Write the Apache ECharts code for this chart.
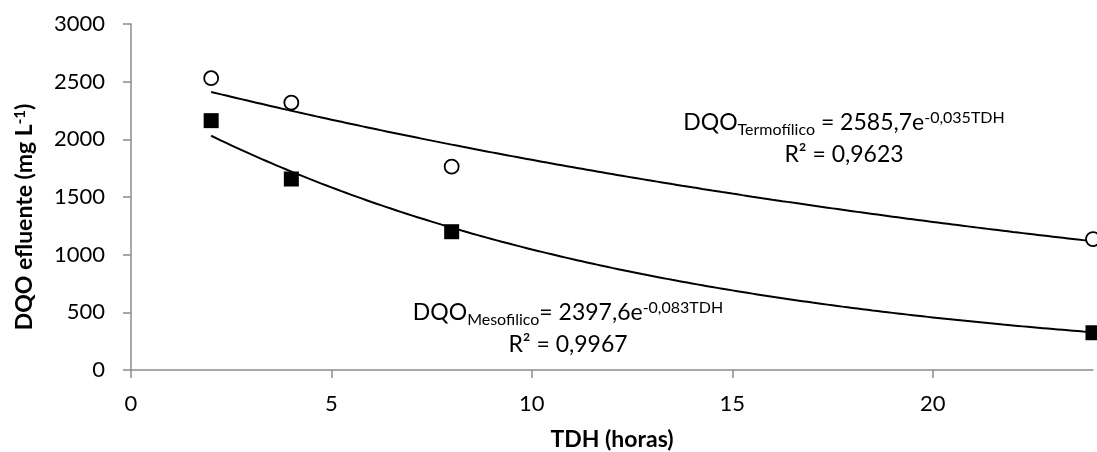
<!DOCTYPE html>
<html>
<head>
<meta charset="utf-8">
<style>
  html, body { margin: 0; padding: 0; background: #fff; }
  #chart { width: 1097px; height: 452px; }
</style>
<script src="https://cdn.jsdelivr.net/npm/echarts@6/dist/echarts.min.js"></script>
</head>
<body>
<div id="chart"></div>
<script>
// Hydraulic retention time (TDH, hours)
const tdh = [2, 4, 8, 24];
// Effluent COD (mg/L) for each reactor
const dqoTermofilico = [2530, 2318, 1763, 1135];
const dqoMesofilico = [2162, 1656, 1199, 323];
// Exponential fit coefficients: DQO = a * exp(b * TDH)
const fitTermofilico = [2585.7, -0.035];
const fitMesofilico = [2397.6, -0.083];
// Axis ticks
const xTicks = [0, 5, 10, 15, 20];
const yTicks = [0, 500, 1000, 1500, 2000, 2500, 3000];

const FONT = 'Lato, "Noto Sans", sans-serif';

function fitCurve(coef) {
  const pts = [];
  for (let t = tdh[0]; t <= tdh[tdh.length - 1] + 1e-9; t += 0.25) {
    pts.push([t, coef[0] * Math.exp(coef[1] * t)]);
  }
  return pts;
}

const chart = echarts.init(document.getElementById('chart'), null, { renderer: 'canvas' });

const eqRich = {
  m: { fontFamily: FONT, fontSize: 23, color: '#000', lineHeight: 34, verticalAlign: 'middle' },
  sub: { fontFamily: FONT, fontSize: 16, color: '#000', lineHeight: 34, verticalAlign: 'bottom', padding: [0, 0, 2, 0] },
  sup: { fontFamily: FONT, fontSize: 16, color: '#000', lineHeight: 34, verticalAlign: 'top', padding: [4, 0, 0, 0] }
};

chart.setOption({
  animation: false,
  backgroundColor: '#ffffff',
  grid: { left: 131, right: 4, top: 24, bottom: 82 },
  xAxis: {
    type: 'value',
    min: 0,
    max: 24,
    interval: 5,
    axisLine: { show: true, lineStyle: { color: '#8c8c8c', width: 1.5 } },
    axisTick: { show: true, length: 8, lineStyle: { color: '#8c8c8c', width: 1.5 } },
    axisLabel: {
      fontFamily: FONT, fontSize: 22, color: '#000', margin: 23,
      showMaxLabel: false,
      formatter: v => (xTicks.includes(v) ? String(v) : '')
    },
    splitLine: { show: false }
  },
  yAxis: {
    type: 'value',
    min: 0,
    max: 3000,
    interval: 500,
    axisLine: { show: true, lineStyle: { color: '#8c8c8c', width: 1.5 } },
    axisTick: { show: true, length: 8, lineStyle: { color: '#8c8c8c', width: 1.5 } },
    axisLabel: {
      fontFamily: FONT, fontSize: 22, color: '#000', margin: 26,
      formatter: v => (yTicks.includes(v) ? String(v) : '')
    },
    splitLine: { show: false }
  },
  series: [
    {
      name: 'Ajuste Termofílico',
      type: 'line',
      data: fitCurve(fitTermofilico),
      showSymbol: false,
      smooth: true,
      lineStyle: { color: '#000', width: 2 },
      z: 2
    },
    {
      name: 'Ajuste Mesofílico',
      type: 'line',
      data: fitCurve(fitMesofilico),
      showSymbol: false,
      smooth: true,
      lineStyle: { color: '#000', width: 2 },
      z: 2
    },
    {
      name: 'Termofílico',
      type: 'scatter',
      data: tdh.map((t, i) => [t, dqoTermofilico[i]]),
      symbol: 'circle',
      symbolSize: 14,
      clip: false,
      itemStyle: { color: '#fff', borderColor: '#000', borderWidth: 1.8, opacity: 1 },
      z: 3
    },
    {
      name: 'Mesofílico',
      type: 'scatter',
      data: tdh.map((t, i) => [t, dqoMesofilico[i]]),
      symbol: 'rect',
      symbolSize: 15,
      clip: false,
      itemStyle: { color: '#000', opacity: 1 },
      z: 3
    }
  ],
  graphic: [
    {
      type: 'text',
      x: 25, y: 217,
      rotation: Math.PI / 2,
      style: {
        text: '{b|DQO efluente (mg L}{s|-1}{b|)}',
        align: 'center',
        verticalAlign: 'middle',
        rich: {
          b: { fontFamily: FONT, fontSize: 23, fontWeight: 'bold', color: '#000', lineHeight: 30, verticalAlign: 'middle' },
          s: { fontFamily: FONT, fontSize: 15, fontWeight: 'bold', color: '#000', lineHeight: 30, verticalAlign: 'top', padding: [3, 0, 0, 0] }
        }
      }
    },
    {
      type: 'text',
      x: 612, y: 440,
      style: {
        text: 'TDH (horas)',
        fontFamily: FONT, fontSize: 23, fontWeight: 'bold', fill: '#000',
        align: 'center', verticalAlign: 'middle'
      }
    },
    {
      type: 'text',
      x: 844, y: 123,
      style: {
        text: '{m|DQO}{sub|Termofílico}{m| = 2585,7e}{sup|-0,035TDH}',
        align: 'center', verticalAlign: 'middle',
        rich: eqRich
      }
    },
    {
      type: 'text',
      x: 844, y: 155,
      style: {
        text: '{m|R² = 0,9623}',
        align: 'center', verticalAlign: 'middle',
        rich: eqRich
      }
    },
    {
      type: 'text',
      x: 568, y: 313,
      style: {
        text: '{m|DQO}{sub|Mesofilico}{m|= 2397,6e}{sup|-0,083TDH}',
        align: 'center', verticalAlign: 'middle',
        rich: eqRich
      }
    },
    {
      type: 'text',
      x: 568, y: 345,
      style: {
        text: '{m|R² = 0,9967}',
        align: 'center', verticalAlign: 'middle',
        rich: eqRich
      }
    }
  ]
});
</script>
</body>
</html>
